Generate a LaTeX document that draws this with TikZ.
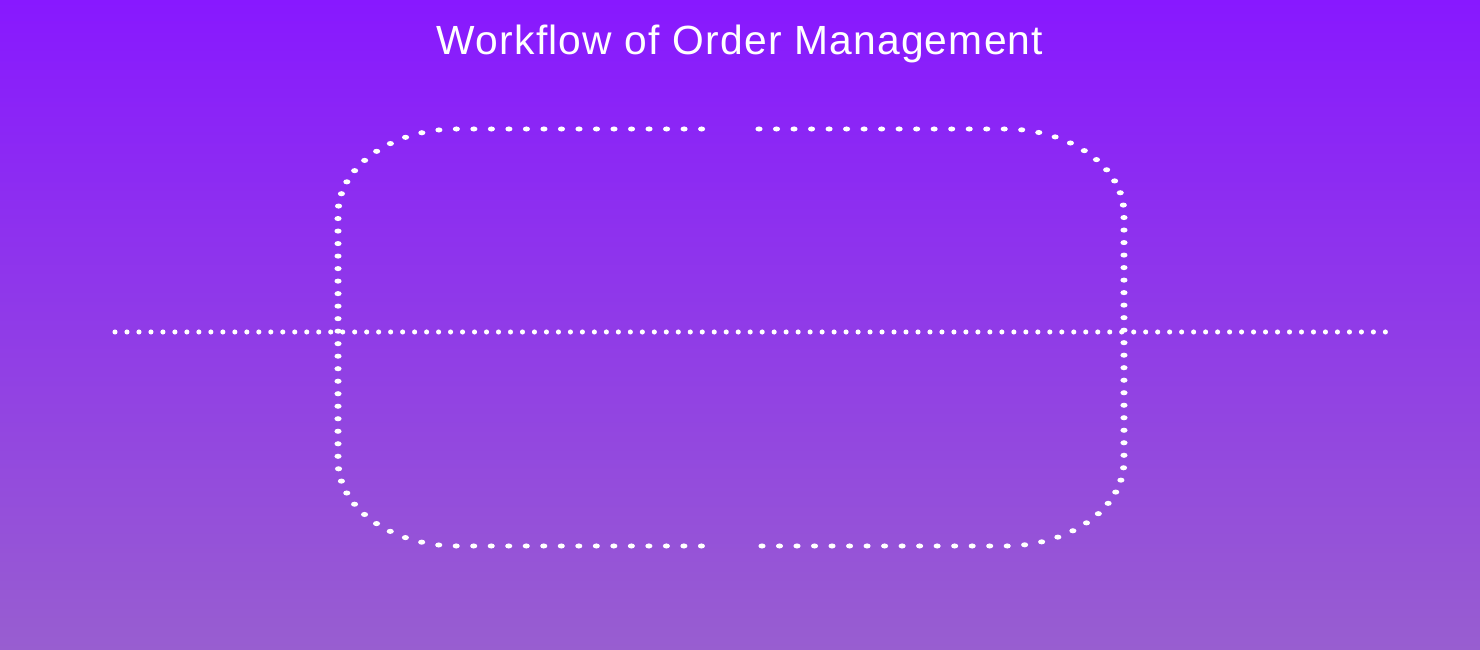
\documentclass[tikz,border=0pt]{standalone}
\usepackage{fontspec}
\setmainfont{Liberation Sans}
\definecolor{bgtop}{RGB}{136,24,255}
\definecolor{bgbot}{RGB}{152,94,208}
\tikzset{dotline/.style={white,line width=1.45pt,line cap=round,dash pattern=on 0pt off 3.56pt}}
\begin{document}
\begin{tikzpicture}[line join=round, line cap=round]
	\def \W{14.8}\def \H{6.5}\def \yt{5.21}\def \yb{1.04}\def \xh{2.807}
	\shade[top color=bgtop,bottom color=bgbot] (0,0) rectangle (\W,\H);
	\useasboundingbox (0,0) rectangle (\W,\H);
	\node[white,font=\fontsize{11.6}{13}\selectfont\addfontfeature{LetterSpace=3},anchor=base] (title) at (7.40,5.95) {Workflow of Order Management};
	% middle line
	\coordinate (west) at (1.15,3.18); \coordinate (east) at (13.88,3.18);
	\draw[dotline,dash pattern=on 0pt off 3.41pt] (west) -- (east);
	% the two halves of the rounded frame
	\begin{scope}[transform canvas={shift={(7.31,0)},xscale=1.4}]
		\draw[dotline,rounded corners=0.85cm] (-0.21,\yt) -- (-\xh,\yt) -- (-\xh,\yb) -- (-0.21,\yb);
		\draw[dotline,rounded corners=0.85cm] (0.20,\yt) -- (\xh,\yt) -- (\xh,\yb) -- (0.20,\yb);
	\end{scope}
\end{tikzpicture}
\end{document}
